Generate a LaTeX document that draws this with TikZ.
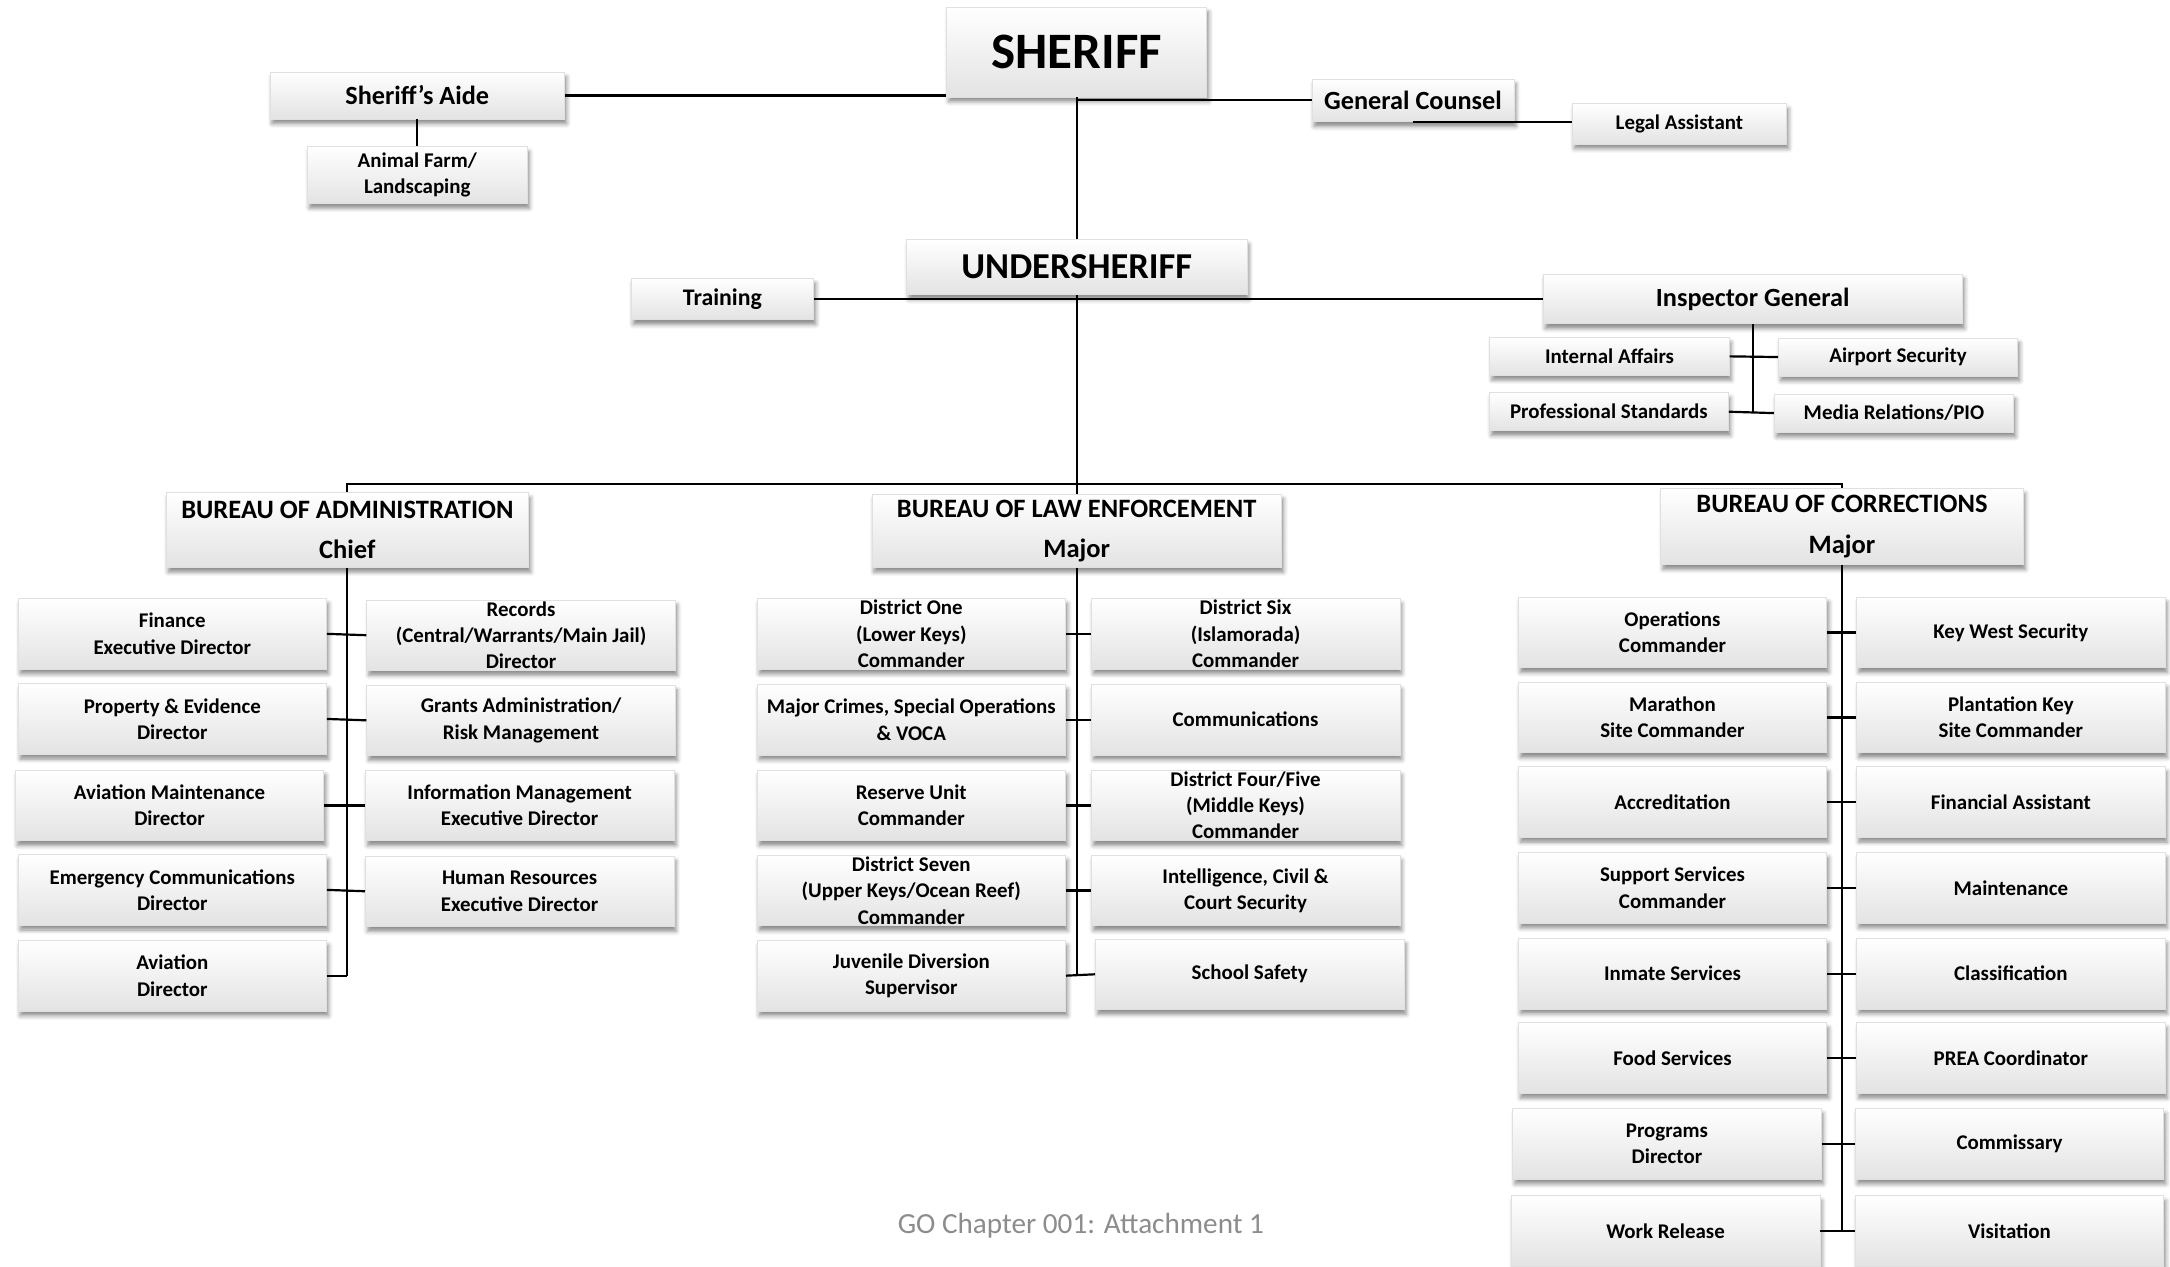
\documentclass[tikz,border=0pt]{standalone}
\usepackage{fontspec}
\setmainfont{Carlito}
\usetikzlibrary{shadows.blur}
\tikzset{box/.style={rectangle, inner sep=0pt, align=center, draw=black!12, line width=0.3pt,
  top color=white, bottom color=black!11,
  blur shadow={shadow xshift=0.3mm, shadow yshift=-0.7mm, shadow blur radius=0.6mm, shadow opacity=45},
  font=\bfseries\fontsize{8.6}{10.8}\selectfont}}
\tikzset{cell/.style={box, minimum width=44.6mm, minimum height=10.2mm}}
\tikzset{subbox/.style={box, minimum width=34.6mm, minimum height=5.5mm}}
\tikzset{bureau/.style={box, minimum width=52.4mm, minimum height=10.8mm, font=\bfseries\fontsize{10.9}{16.5}\selectfont}}
\tikzset{lead/.style={box, font=\bfseries\fontsize{10.8}{13}\selectfont}}
\tikzset{link/.style={line width=0.9pt}}

\begin{document}
\begin{tikzpicture}[x=0.2mm, y=-0.2mm]
      \useasboundingbox (0,0) rectangle (1568,915);
      % command staff
      \node[box, minimum width=37.6mm, minimum height=13mm, font=\bfseries\fontsize{21}{25}\selectfont] (sheriff) at (778,37.5) {SHERIFF};
      \node[lead, minimum width=42.6mm, minimum height=6.8mm] (aide) at (301.5,69) {Sheriff’s Aide};
      \node[box, minimum width=31.8mm, minimum height=8.2mm] (farm) at (301.5,126.5) {Animal Farm/\\Landscaping};
      \node[lead, minimum width=29.2mm, minimum height=6.2mm] (counsel) at (1021,72.5) {General Counsel};
      \node[box, minimum width=31mm, minimum height=5.8mm] (legal) at (1213.5,89.5) {Legal Assistant};
      \node[box, minimum width=49.2mm, minimum height=8mm, font=\bfseries\fontsize{15}{18}\selectfont] (under) at (778,193) {UNDERSHERIFF};
      \node[box, minimum width=26.4mm, minimum height=6mm, font=\bfseries\fontsize{9.8}{12}\selectfont] (train) at (522,216) {Training};
      \node[lead, minimum width=60.6mm, minimum height=7.2mm] (ig) at (1266.5,216) {Inspector General};
      \node[subbox] (ia) at (1163,257.5) {Internal Affairs};
      \node[subbox] (air) at (1371.5,258) {Airport Security};
      \node[subbox] (prof) at (1162.5,297.5) {Professional Standards};
      \node[subbox] (media) at (1368.5,298.5) {Media Relations/PIO};

      % bureaus
      \coordinate (bus) at (778,350);
      \node[bureau] (badm) at (251,383) {BUREAU OF ADMINISTRATION\\Chief};
      \node[bureau, minimum width=59.2mm, minimum height=10.6mm] (ble) at (778,383.5) {BUREAU OF LAW ENFORCEMENT\\Major};
      \node[bureau, minimum height=11mm] (bcor) at (1331,380.5) {BUREAU OF CORRECTIONS\\Major};

      % administration
      \node[cell] (fin) at (124.5,458) {Finance\\Executive Director};
      \node[cell] (rec) at (376.5,459) {Records\\(Central/Warrants/Main Jail)\\Director};
      \node[cell] (prop) at (124.5,519.5) {Property \& Evidence\\Director};
      \node[cell] (grant) at (376.5,520.5) {Grants Administration/\\Risk Management};
      \node[cell] (avm) at (122.5,582) {Aviation Maintenance\\Director};
      \node[cell] (info) at (375.5,582) {Information Management\\Executive Director};
      \node[cell] (emc) at (124.5,643) {Emergency Communications\\Director};
      \node[cell] (hr) at (375.5,644) {Human Resources\\Executive Director};
      \node[cell] (avi) at (124.5,705) {Aviation\\Director};

      % law enforcement
      \node[cell] (d1) at (658.5,458) {District One\\(Lower Keys)\\Commander};
      \node[cell] (d6) at (900,458) {District Six\\(Islamorada)\\Commander};
      \node[cell] (crimes) at (658.5,520) {Major Crimes, Special Operations\\\& VOCA};
      \node[cell] (comm) at (900,520) {Communications};
      \node[cell] (reserve) at (658.5,582) {Reserve Unit\\Commander};
      \node[cell] (d45) at (900,582) {District Four/Five\\(Middle Keys)\\Commander};
      \node[cell] (d7) at (658.5,643.5) {District Seven\\(Upper Keys/Ocean Reef)\\Commander};
      \node[cell] (intel) at (900,643.5) {Intelligence, Civil \&\\Court Security};
      \node[cell] (juv) at (658.5,705) {Juvenile Diversion\\Supervisor};
      \node[cell] (school) at (903,704) {School Safety};

      % corrections
      \node[cell] (ops) at (1208.5,457) {Operations\\Commander};
      \node[cell] (kw) at (1453,457) {Key West Security};
      \node[cell] (mara) at (1208.5,518.5) {Marathon\\Site Commander};
      \node[cell] (pk) at (1453,518.5) {Plantation Key\\Site Commander};
      \node[cell] (accr) at (1208.5,579.5) {Accreditation};
      \node[cell] (finas) at (1453,579.5) {Financial Assistant};
      \node[cell] (supp) at (1208.5,641.5) {Support Services\\Commander};
      \node[cell] (maint) at (1453,641.5) {Maintenance};
      \node[cell] (inmate) at (1208.5,703.5) {Inmate Services};
      \node[cell] (class) at (1453,703.5) {Classification};
      \node[cell] (food) at (1208.5,764.5) {Food Services};
      \node[cell] (prea) at (1453,764.5) {PREA Coordinator};
      \node[cell] (prog) at (1204.5,826.5) {Programs\\Director};
      \node[cell] (commis) at (1452,826.5) {Commissary};
      \node[cell] (work) at (1203.5,889.5) {Work Release};
      \node[cell] (visit) at (1452,889.5) {Visitation};

      \node[text=black!45, font=\fontsize{12}{14}\selectfont] (footer) at (781,886) {GO Chapter 001: Attachment 1};

      % connectors
      \draw[link] (aide.east) -- (aide.east -| sheriff.west);
      \draw[link] (counsel.west) -| (sheriff.south);
      \draw[link] (sheriff.south) -- (under.north);
      \draw[link] (aide.south) -- (farm.north);
      \draw[link] (counsel.south) -- (counsel.south -| legal.west);
      \draw[link] (train.east) -- (ig.west);
      \draw[link] (ig.south) -- (ig.south |- prof.east);
      \draw[link] (ia.east) -- (air.west);
      \draw[link] (prof.east) -- (media.west);
      \draw[link] (under.south) -- (ble.north);
      \draw[link] (badm.north) |- (bus) -| (bcor.north);
      \draw[link] (badm.south) -- (badm.south |- avi.east);
      \draw[link] (ble.south) -- (ble.south |- juv.east);
      \draw[link] (bcor.south) -- (bcor.south |- work.east);
      \foreach \a/\b in {fin/rec, prop/grant, avm/info, emc/hr, d1/d6, crimes/comm, reserve/d45, d7/intel, juv/school,
        ops/kw, mara/pk, accr/finas, supp/maint, inmate/class, food/prea, prog/commis, work/visit}
        \draw[link] (\a.east) -- (\b.west);
      \draw[link] (avi.east) -- (avi.east -| badm.south);
    \end{tikzpicture}
\end{document}
